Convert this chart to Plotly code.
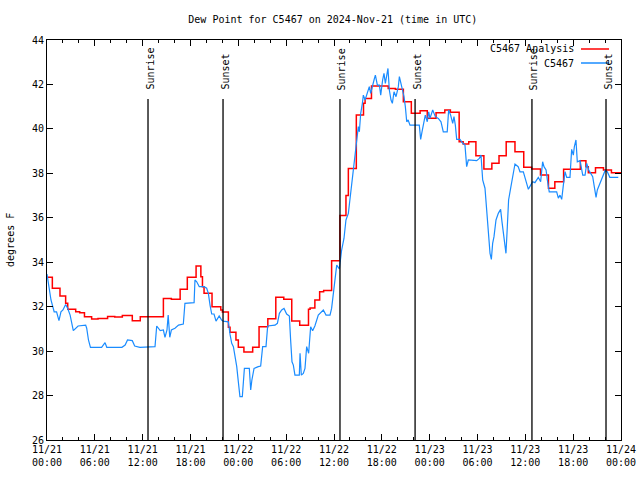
import pandas as pd
import plotly.graph_objects as go

START = pd.Timestamp("2024-11-21 00:00")
END = pd.Timestamp("2024-11-24 00:00")

# Analysis (step series): hours since 11/21 00:00 UTC and dew point (F)
analysis_hours = [0, 0.67, 1.63, 2.34, 2.6, 3.6, 4.1, 4.7, 5.6, 6.4, 7.6, 8.5, 9.45, 10.7, 11.7,
                  14.6, 15.6, 16.7, 17.6, 18.7, 19.3, 19.5, 19.7, 20.7, 21.8, 22.0, 22.75, 22.96,
                  23.7, 24.0, 24.7, 25.8, 26.6, 27.7, 28.7, 29.7, 30.7, 31.7, 32.8, 33.0, 33.6,
                  34.2, 34.7, 35.7, 36.75, 37.5, 37.8, 38.8, 39.7, 39.9, 40.7, 42.8, 43.7, 44.7,
                  45.7, 46.8, 47.7, 48.8, 49.9, 50.6, 51.7, 52.2, 52.9, 53.8, 54.8, 55.8, 56.7,
                  57.6, 58.7, 59.8, 60.8, 61.9, 62.9, 63.7, 64.8, 66.9, 67.6, 67.9, 68.8, 69.8,
                  70.8, 72.0]
analysis_values = [33.32, 32.83, 32.48, 32.15, 31.88, 31.77, 31.73, 31.55, 31.44, 31.47, 31.56,
                   31.53, 31.6, 31.37, 31.55, 32.37, 32.33, 32.78, 33.32, 33.83, 33.35, 32.9, 32.6,
                   32.0, 31.85, 31.76, 31.07, 30.85, 30.5, 30.17, 29.96, 30.17, 31.1, 31.46, 32.42,
                   32.33, 31.35, 31.16, 31.88, 31.94, 32.3, 32.67, 32.73, 34.07, 36.1, 37.0, 38.22,
                   40.62, 41.15, 41.37, 41.93, 41.82, 41.78, 41.22, 40.7, 40.82, 40.48, 40.73,
                   40.85, 40.75, 39.42, 39.32, 39.42, 38.79, 38.19, 38.45, 38.79, 39.42, 38.97,
                   38.27, 38.19, 37.92, 37.33, 37.62, 38.18, 38.57, 38.3, 38.03, 38.25, 38.15,
                   38.03, 38.0]

# Station observations
obs_hours = [0, 0.25, 0.5, 0.9, 1.2, 1.5, 1.75, 2.0, 2.34, 2.6, 2.9, 3.3, 3.6, 3.9, 4.85, 4.98,
             5.2, 5.45, 6.0, 6.85, 7.28, 7.5, 9.4, 9.8, 10.1, 10.7, 11.0, 11.65, 13.55, 13.76,
             14.2, 14.6, 14.8, 15.05, 15.2, 15.4, 15.6, 16.05, 16.5, 17.1, 17.3, 18.15, 18.45,
             18.56, 18.78, 19.1, 19.7, 20.03, 20.24, 20.45, 20.66, 20.95, 21.2, 21.6, 21.9, 22.1,
             22.75, 22.96, 23.17, 23.38, 23.58, 23.8, 24.0, 24.2, 24.5, 24.63, 24.76, 25.38,
             25.55, 25.7, 25.97, 26.5, 26.8, 27.05, 27.47, 27.68, 28.6, 28.9, 29.15, 29.44,
             29.73, 30.06, 30.4, 30.56, 30.73, 30.9, 31.1, 31.65, 31.74, 31.9, 32.15, 32.36,
             32.57, 32.82, 32.99, 33.07, 33.32, 33.6, 34.03, 34.66, 35.0, 35.5, 35.7, 36.0,
             36.34, 36.67, 36.96, 37.25, 37.5, 37.8, 38.1, 38.42, 38.63, 38.85, 39.05, 39.18,
             39.35, 39.56, 39.68, 39.9, 40.18, 40.43, 40.6, 40.85, 41.02, 41.19, 41.44, 41.7,
             41.86, 42.1, 42.27, 42.44, 42.6, 42.77, 42.94, 43.15, 43.32, 43.53, 43.78, 44.07,
             44.2, 44.37, 44.62, 44.78, 44.95, 45.12, 45.3, 45.53, 46.7, 46.87, 47.04, 47.29,
             47.45, 47.7, 47.88, 48.04, 48.38, 48.71, 49.08, 49.42, 49.71, 50.2, 50.38, 50.63,
             50.89, 51.05, 51.22, 51.39, 51.8, 52.15, 52.43, 52.64, 52.85, 53.9, 54.23, 54.44,
             54.65, 54.94, 55.15, 55.36, 55.57, 55.74, 55.9, 56.07, 56.32, 56.61, 56.9, 57.07,
             57.24, 57.4, 57.57, 57.74, 57.9, 58.16, 58.4, 58.7, 59.1, 59.33, 59.75, 59.96,
             60.38, 60.67, 60.92, 61.2, 61.63, 61.92, 62.17, 62.34, 62.6, 62.76, 63.0, 63.93,
             64.14, 64.35, 64.56, 64.77, 64.98, 65.19, 65.6, 65.81, 66.02, 66.15, 66.35, 66.52,
             66.86, 67.2, 67.49, 67.7, 67.95, 68.2, 68.45, 68.62, 68.87, 69.03, 69.28, 69.58,
             70.0, 70.28, 70.6, 71.66]
obs_values = [33.47, 32.97, 32.3, 31.77, 31.77, 31.37, 31.77, 31.85, 32.1, 31.92, 31.62, 30.92,
              31.03, 31.13, 31.17, 31.03, 30.5, 30.17, 30.17, 30.17, 30.38, 30.17, 30.17, 30.27,
              30.5, 30.47, 30.23, 30.17, 30.2, 31.13, 30.92, 30.95, 30.62, 30.95, 31.62, 30.62,
              30.95, 31.03, 31.17, 31.22, 32.15, 32.18, 32.18, 33.2, 33.12, 32.9, 32.9, 32.83,
              32.6, 32.07, 31.67, 31.67, 31.35, 31.58, 31.4, 31.35, 31.32, 30.75, 30.35, 30.2,
              29.82, 29.3, 28.62, 27.95, 27.95, 28.62, 29.22, 29.22, 28.25, 28.7, 29.22, 29.3,
              29.33, 30.2, 30.2, 31.13, 31.17, 31.25, 31.7, 31.85, 31.92, 31.67, 31.58, 30.5,
              29.52, 29.37, 28.92, 28.92, 29.9, 28.92, 29.0, 29.22, 30.2, 29.9, 30.5, 31.1,
              30.92, 31.13, 31.62, 31.85, 31.62, 31.62, 31.92, 32.75, 33.87, 33.7, 34.55, 35.07,
              35.9, 36.2, 37.1, 38.0, 38.9, 39.42, 40.1, 39.87, 40.7, 41.15, 41.52, 41.3, 41.6,
              41.9, 41.6, 42.05, 42.2, 42.42, 41.97, 41.97, 41.52, 42.2, 42.5, 42.05, 42.42,
              42.72, 41.75, 41.3, 41.15, 41.67, 41.45, 41.9, 42.35, 42.05, 41.75, 41.45, 41.0,
              40.32, 40.4, 40.17, 40.17, 39.53, 39.87, 40.25, 40.62, 40.32, 40.77, 40.47, 40.85,
              40.55, 40.47, 40.32, 39.87, 39.87, 40.85, 40.62, 40.25, 40.55, 40.17, 39.53, 39.53,
              39.35, 39.27, 38.3, 38.6, 38.57, 38.67, 38.82, 37.7, 37.33, 36.35, 35.3, 34.4,
              34.13, 34.85, 35.15, 35.9, 36.2, 36.38, 35.83, 35.3, 35.07, 34.4, 35.6, 36.8,
              37.33, 37.85, 38.42, 38.3, 38.07, 38.07, 37.77, 37.28, 37.47, 37.62, 37.58, 37.82,
              37.62, 38.52, 38.3, 38.15, 37.7, 37.17, 37.17, 36.88, 37.02, 36.83, 37.47, 38.07,
              37.82, 37.82, 39.08, 38.82, 39.2, 39.5, 38.52, 38.57, 37.92, 37.92, 38.45, 38.15,
              38.0, 37.85, 37.47, 36.92, 37.25, 37.47, 37.7, 38.12, 38.07, 37.82, 37.82]

# Sun events (hours since 11/21 00:00 UTC)
sun_hours = [12.67, 22.08, 36.75, 46.17, 60.83, 70.12]
sun_labels = ["Sunrise", "Sunset", "Sunrise", "Sunset", "Sunrise", "Sunset"]

series_names = ["C5467 Analysis", "C5467"]
series_colors = ["#ff0000", "#1a8cff"]


def to_time(hours):
    return START + pd.to_timedelta(hours, unit="h")


FONT = "DejaVu Sans Mono"

fig = go.Figure()
fig.add_trace(go.Scatter(x=to_time(analysis_hours), y=analysis_values, mode="lines",
                         line=dict(color=series_colors[0], width=1.5, shape="hv"),
                         name=series_names[0], showlegend=False))
fig.add_trace(go.Scatter(x=to_time(obs_hours), y=obs_values, mode="lines",
                         line=dict(color=series_colors[1], width=1.2),
                         name=series_names[1], showlegend=False))

shapes = []
annotations = []
for h, lab in zip(sun_hours, sun_labels):
    t = to_time([h])[0]
    shapes.append(dict(type="line", xref="x", yref="paper", x0=t, x1=t, y0=0, y1=0.8525,
                       line=dict(color="black", width=1.3)))
    annotations.append(dict(x=t, y=0.87, xref="x", yref="paper", text=lab, textangle=-90,
                            showarrow=False, xanchor="center", yanchor="bottom", xshift=1.5,
                            font=dict(family=FONT, size=10, color="black")))

# Gnuplot-style key (text on the left, sample line on the right)
key_rows_y = [0.9775, 0.9425]
for name, color, ky in zip(series_names, series_colors, key_rows_y):
    annotations.append(dict(x=0.921, y=ky, xref="paper", yref="paper", text=name,
                            showarrow=False, xanchor="right", yanchor="middle",
                            font=dict(family=FONT, size=10, color="black")))
    shapes.append(dict(type="line", xref="paper", yref="paper", x0=0.9303, x1=0.9791,
                       y0=ky, y1=ky, line=dict(color=color, width=1.5)))

annotations.append(dict(x=-0.0645, y=0.5, xref="paper", yref="paper", text="degrees F",
                        textangle=-90, showarrow=False, xanchor="center", yanchor="middle",
                        font=dict(family=FONT, size=10, color="black")))

fig.update_layout(
    width=640, height=480, autosize=False,
    margin=dict(l=47, r=19, t=40, b=40, pad=0),
    paper_bgcolor="white", plot_bgcolor="white",
    font=dict(family=FONT, size=10, color="black"),
    title=dict(text="Dew Point for C5467 on 2024-Nov-21 (time in UTC)", x=0.52, xanchor="center",
               y=1 - 19 / 480, yanchor="middle", yref="container",
               font=dict(family=FONT, size=10, color="black")),
    shapes=shapes, annotations=annotations, showlegend=False,
)
fig.update_xaxes(type="date", range=[START, END], tick0=START, dtick=6 * 3600 * 1000,
                 tickformat="%m/%d<br>%H:%M", ticks="inside", ticklen=6, tickcolor="black",
                 minor=dict(dtick=2 * 3600 * 1000, tick0=START, ticks="inside", ticklen=3,
                            tickcolor="black", showgrid=False),
                 showline=True, linecolor="black", linewidth=1, mirror="ticks",
                 showgrid=False, zeroline=False, automargin=False,
                 tickfont=dict(family=FONT, size=10))
fig.update_yaxes(range=[26, 44], dtick=2, ticks="inside", ticklen=6, tickcolor="black",
                 showline=True, linecolor="black", linewidth=1, mirror="ticks",
                 showgrid=False, zeroline=False, automargin=False,
                 tickfont=dict(family=FONT, size=10))

post = ("document.body.style.margin='0';document.body.style.padding='0';"
        "document.body.style.overflow='hidden';")
fig.write_html("out.html", config={"responsive": False, "displayModeBar": False},
               post_script=post)
